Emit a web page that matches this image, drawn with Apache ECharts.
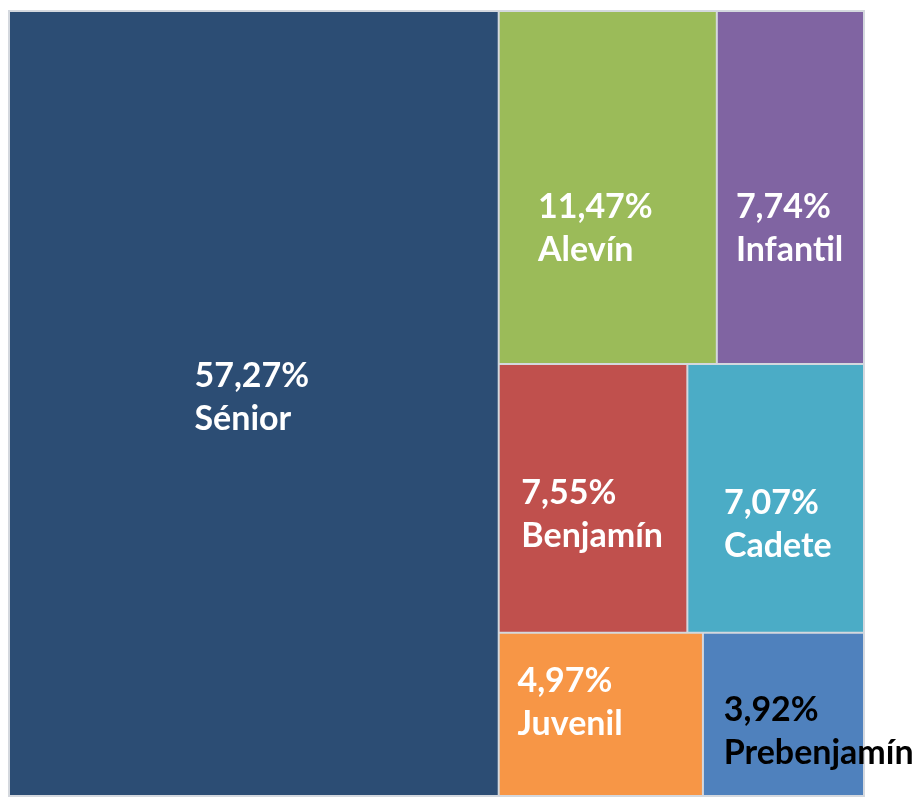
<!DOCTYPE html>
<html>
<head>
<meta charset="utf-8">
<script src="https://cdn.jsdelivr.net/npm/echarts@6/dist/echarts.min.js"></script>
<style>
  html, body { margin: 0; padding: 0; background: #fff; }
  #chart { width: 921px; height: 797px; }
</style>
</head>
<body>
<div id="chart"></div>
<script>
// categorías y porcentajes
const categories = ['Sénior', 'Alevín', 'Infantil', 'Benjamín', 'Cadete', 'Juvenil', 'Prebenjamín'];
const shares = [57.27, 11.47, 7.74, 7.55, 7.07, 4.97, 3.92];
const colors = ['#2c4d74', '#9bbb59', '#8064a2', '#c0504d', '#4bacc6', '#f79646', '#4f81bd'];
const labelColors = ['#fff', '#fff', '#fff', '#fff', '#fff', '#fff', '#000'];
// posición de la etiqueta dentro de cada rectángulo
const labelPos = [
  ['36.8%', '49.2%'],
  ['15.4%', '61.7%'],
  ['9%', '61.7%'],
  ['8.9%', '56.1%'],
  ['17.5%', '59.8%'],
  ['6.3%', '42.9%'],
  ['9.3%', '60.9%'],
];

const chart = echarts.init(document.getElementById('chart'), null, { renderer: 'canvas' });

const fmt = (v) => v.toFixed(2).replace('.', ',') + '%';

const option = {
  animation: false,
  series: [
    {
      type: 'treemap',
      left: 8,
      top: 10,
      right: 56,
      bottom: 0,
      roam: false,
      nodeClick: false,
      breadcrumb: { show: false },
      itemStyle: {
        borderWidth: 1,
        borderColor: '#d4d8de',
        gapWidth: 0,
      },
      label: {
        show: true,
        formatter: (p) => fmt(p.value) + '\n' + p.name,
        fontFamily: 'Lato',
        fontWeight: 'bold',
        fontSize: 34,
        lineHeight: 43,
        align: 'left',
        verticalAlign: 'middle',
        overflow: 'none',
      },
      data: categories.map((name, i) => ({
        name,
        value: shares[i],
        itemStyle: { color: colors[i] },
        label: { color: labelColors[i], position: labelPos[i] },
      })),
    },
  ],
};

chart.setOption(option);
</script>
</body>
</html>
